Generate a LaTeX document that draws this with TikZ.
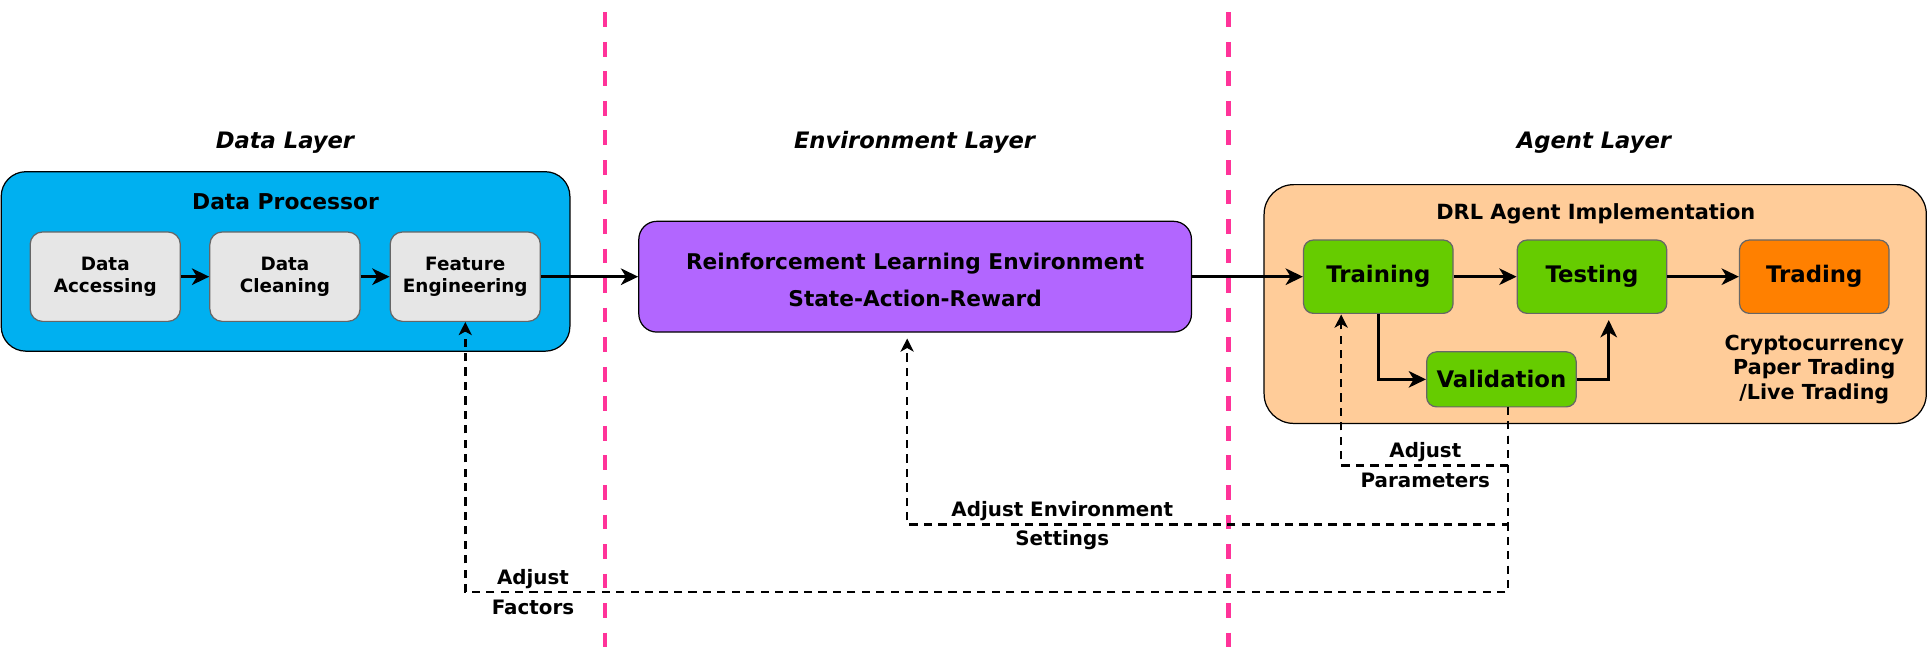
\documentclass[tikz,border=0pt]{standalone}
\usepackage{fontspec}
\setmainfont{DejaVu Sans}
\usetikzlibrary{arrows.meta}
\definecolor{dpblue}{HTML}{00B0F0}
\definecolor{envpurple}{HTML}{B266FF}
\definecolor{agpeach}{HTML}{FFCC99}
\definecolor{aggreen}{HTML}{66CC00}
\definecolor{agorange}{HTML}{FF8000}
\definecolor{boxgray}{HTML}{E6E6E6}
\definecolor{rimgray}{HTML}{666666}
\definecolor{seppink}{HTML}{FF3399}
\begin{document}
\begin{tikzpicture}[x=0.75pt, y=-0.75pt,
  layer/.style={font=\fontsize{13.8}{16}\selectfont\bfseries\itshape},
  outer/.style={draw=black, line width=0.75pt, inner sep=0pt},
  inbox/.style={draw=rimgray, fill=boxgray, line width=0.75pt, rounded corners=7.5pt, inner sep=0pt, minimum width=122*0.75pt, minimum height=72.6*0.75pt, align=center, font=\fontsize{11.2}{13.5}\selectfont\bfseries},
  agbox/.style={draw=rimgray, fill=aggreen, line width=0.75pt, rounded corners=6pt, inner sep=0pt, minimum width=121.5*0.75pt, minimum height=59.6*0.75pt, font=\fontsize{13.9}{16}\selectfont\bfseries},
  arr/.style={-{Stealth[length=10.5pt,width=10pt,inset=3pt]}, line width=2pt},
  fb/.style={-{Stealth[length=8pt,width=8pt,inset=2.2pt]}, line width=1.5pt, dash pattern=on 5pt off 3.8pt},
  sep/.style={draw=seppink, line width=3pt, dash pattern=on 9pt off 9pt},
  lbl/.style={align=center, font=\fontsize{12.1}{18}\selectfont\bfseries}]
\useasboundingbox (0,0) rectangle (1568,538.6);
% layer separators
\draw[sep] (491.5,10) -- (491.5,535);
\draw[sep] (998,10) -- (998,535);
% layer titles
\node[layer] (T_0) at (231.5,116) {Data Layer};
\node[layer] (T_1) at (743,116) {Environment Layer};
\node[layer] (T_2) at (1295,116) {Agent Layer};
% data layer
\node[outer, fill=dpblue, rounded corners=15pt, minimum width=462*0.75pt, minimum height=145.8*0.75pt] (D_box) at (232,212.4) {};
\node[font=\fontsize{13.3}{15}\selectfont\bfseries] (D_title) at (232,164) {Data Processor};
\node[inbox] (D_0) at (85.5,224.8) {Data\\Accessing};
\node[inbox] (D_1) at (231.5,224.8) {Data\\Cleaning};
\node[inbox] (D_2) at (378,224.8) {Feature\\Engineering};
\draw[arr] (D_0) -- (D_1);
\draw[arr] (D_1) -- (D_2);
% environment layer
\node[outer, fill=envpurple, rounded corners=11pt, minimum width=449*0.75pt, minimum height=90*0.75pt] (E_0) at (743.5,224.8) {};
\node[align=center, font=\fontsize{13.2}{22.5}\selectfont\bfseries] (E_text) at (743.5,227.5) {Reinforcement Learning Environment\\State-Action-Reward};
\draw[arr] (D_2) -- (E_0);
% agent layer
\node[outer, fill=agpeach, rounded corners=18pt, minimum width=538*0.75pt, minimum height=194*0.75pt] (A_box) at (1296,247) {};
\node[font=\fontsize{12.75}{15}\selectfont\bfseries] (A_title) at (1296.5,173.3) {DRL Agent Implementation};
\node[agbox] (A_0) at (1119.8,224.8) {Training};
\node[agbox] (A_1) at (1293.4,224.8) {Testing};
\node[agbox, fill=agorange] (A_2) at (1474,224.8) {Trading};
\node[agbox, minimum height=44.7*0.75pt] (A_3) at (1219.8,308.2) {Validation};
\node[align=center, font=\fontsize{12.6}{15}\selectfont\bfseries] (A_4) at (1474,300) {Cryptocurrency\\Paper Trading\\/Live Trading};
\draw[arr] (E_0) -- (A_0);
\draw[arr] (A_0) -- (A_1);
\draw[arr] (A_1) -- (A_2);
\coordinate (P_test) at (1307,260);
\draw[arr] (A_0.south) |- (A_3.west);
\draw[arr] (A_3.east) -| (P_test);
% feedback loops
\coordinate (P_out) at (1225,330.5);
\coordinate (P_env) at (737,275);
\coordinate (P_train) at (1089.6,255.5);
\draw[fb] (P_out) -- (1225,481) -| (D_2.south);
\draw[fb] (P_out) -- (1225,426) -| (P_env);
\draw[fb] (P_out) -- (1225,378) -| (P_train);
\node[lbl] (L_0) at (1158,378) {Adjust\\Parameters};
\node[lbl] (L_1) at (863,427) {Adjust Environment\\Settings};
\node[lbl] (L_2) at (433,481) {Adjust\\Factors};
\end{tikzpicture}
\end{document}
